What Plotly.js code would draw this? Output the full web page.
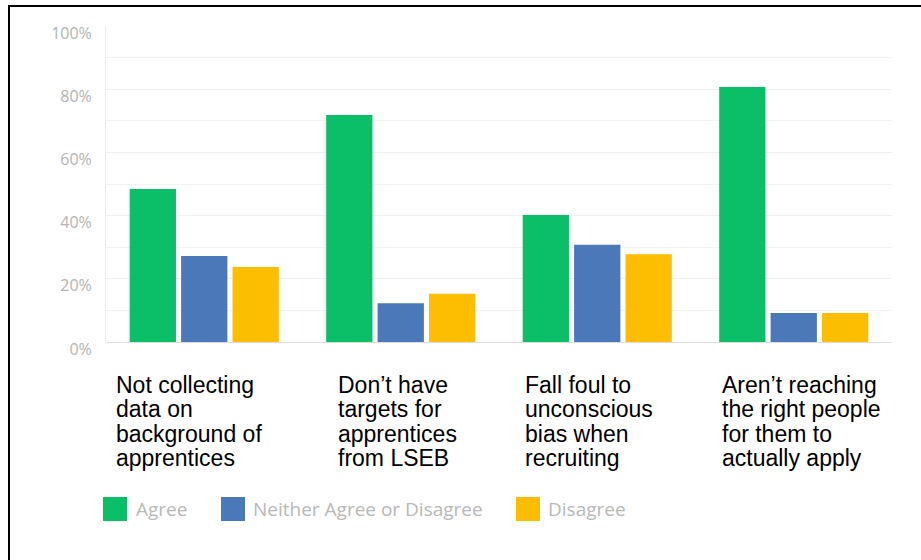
<!DOCTYPE html>
<html>
<head>
<meta charset="utf-8">
<script src="https://cdn.plot.ly/plotly-3.0.1.min.js"></script>
<style>
  html, body { margin: 0; padding: 0; background: #fff; overflow: hidden; }
  #wrap { position: relative; width: 921px; height: 560px; }
  #chart { position: absolute; left: 0; top: 0; width: 921px; height: 560px; }
  #frame { position: absolute; left: 8px; top: 5px; width: 1000px; height: 1000px;
           border-left: 2px solid #000; border-top: 2px solid #000; pointer-events: none; }
</style>
</head>
<body>
<div id="wrap"><div id="chart"></div><div id="frame"></div></div>
<script>
// ---- data ----
const categoryLines = [
  ["Not collecting", "data on", "background of", "apprentices"],
  ["Don\u2019t have", "targets for", "apprentices", "from LSEB"],
  ["Fall foul to", "unconscious", "bias when", "recruiting"],
  ["Aren\u2019t reaching", "the right people", "for them to", "actually apply"]
];
const categories = categoryLines.map(l => l.join(" "));
const seriesNames = ["Agree", "Neither Agree or Disagree", "Disagree"];
const agree    = [48.4, 71.8, 40.2, 80.7];
const neither  = [27.2, 12.3, 30.8, 9.2];
const disagree = [23.7, 15.3, 27.8, 9.2];
const yTickVals = [0, 20, 40, 60, 80, 100];
const yTickText = ["0%", "20%", "40%", "60%", "80%", "100%"];

// ---- styling ----
const colors = ["#0bbf68", "#4a78b8", "#fdbd00"];
const seriesValues = [agree, neither, disagree];

const W = 921, H = 560;
const M = { l: 106, r: 29, t: 26, b: 218 };
const PW = W - M.l - M.r, PH = H - M.t - M.b;
const px2x = px => (px - M.l) / PW;
const py2y = py => (H - M.b - py) / PH;

const traces = seriesValues.map((vals, i) => ({
  type: "bar",
  name: seriesNames[i],
  x: categories,
  y: vals,
  marker: { color: colors[i] },
  hoverinfo: "x+y+name",
  showlegend: false
}));

// category label annotations (one per line for tight line spacing)
const labelLeft = [114, 336, 523, 720];
const lineTop = 384.5, linePitch = 24.5;
const annotations = [];
categoryLines.forEach((lines, ci) => {
  lines.forEach((txt, li) => {
    annotations.push({
      xref: "paper", yref: "paper",
      x: px2x(labelLeft[ci]), y: py2y(lineTop + li * linePitch),
      xanchor: "left", yanchor: "middle",
      text: txt, showarrow: false,
      font: { family: "Liberation Sans, Arial, sans-serif", size: 23, color: "#000" }
    });
  });
});

// custom legend
const legSq = [[103, 127], [221, 245], [516, 540]];
const legTextX = [134, 251, 546];
const legY0 = 497, legY1 = 521;
const shapes = [];
seriesNames.forEach((name, i) => {
  shapes.push({
    type: "rect", xref: "paper", yref: "paper",
    x0: px2x(legSq[i][0]), x1: px2x(legSq[i][1]),
    y0: py2y(legY1), y1: py2y(legY0),
    fillcolor: colors[i], line: { width: 0 }
  });
  annotations.push({
    xref: "paper", yref: "paper",
    x: px2x(legTextX[i]), y: py2y((legY0 + legY1) / 2),
    xanchor: "left", yanchor: "middle",
    text: name, showarrow: false,
    font: { family: "Open Sans, sans-serif", size: 19, color: "#b8b8b8" }
  });
});

const layout = {
  width: W, height: H,
  margin: M,
  paper_bgcolor: "#fff", plot_bgcolor: "#fff",
  barmode: "group",
  bargap: 0.215,
  bargroupgap: 0.1,
  showlegend: false,
  xaxis: {
    type: "category",
    showticklabels: false,
    showgrid: false,
    zeroline: false,
    showline: false,
    fixedrange: true
  },
  yaxis: {
    range: [0, 100],
    tickmode: "array",
    tickvals: yTickVals,
    ticktext: yTickText,
    showgrid: true,
    gridcolor: "#f0f0f0",
    minor: { dtick: 10, showgrid: true, gridcolor: "#f3f3f3" },
    zeroline: true,
    zerolinecolor: "#dcdcdc",
    zerolinewidth: 1,
    showline: true,
    linecolor: "#ececec",
    linewidth: 1,
    ticks: "",
    ticklabelstandoff: 10,
    ticklabelshift: 7,
    tickfont: { family: "Open Sans, sans-serif", size: 16, color: "#b3b3b3" },
    fixedrange: true
  },
  shapes: shapes,
  annotations: annotations
};

Plotly.newPlot("chart", traces, layout, { displayModeBar: false, staticPlot: true });
</script>
</body>
</html>
